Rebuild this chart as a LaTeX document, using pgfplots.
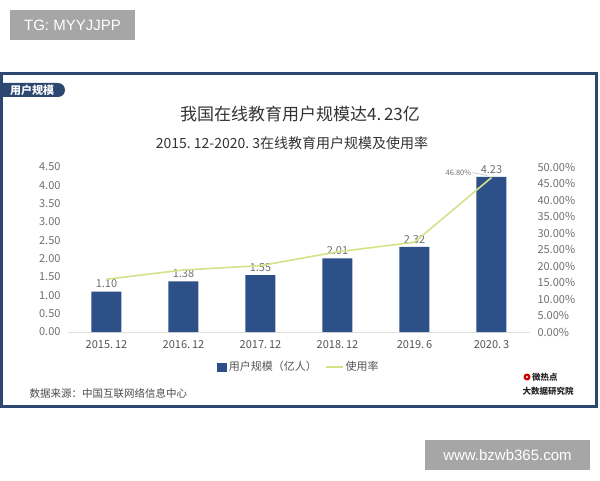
\documentclass[border=0pt]{standalone}
\usepackage{fontspec}
\setmainfont{Noto Sans CJK SC}
\newfontfamily\wm{Liberation Sans}
\usepackage{pgfplots}
\pgfplotsset{compat=1.18}
\definecolor{navy}{HTML}{2C4770}
\definecolor{barblue}{HTML}{2D5089}
\definecolor{linegreen}{HTML}{D3E38A}
\definecolor{ticktext}{HTML}{707070}
\definecolor{labtext}{HTML}{555555}
\definecolor{wmgray}{HTML}{A6A6A6}
\begin{document}
\begin{tikzpicture}[x=1pt,y=1pt]
\fill[white] (0,0) rectangle (600,480);
% watermarks
\fill[wmgray] (10,440) rectangle (135,470);
\node[text=white,font=\wm\fontsize{15}{15}\selectfont] at (72.5,455) {TG: MYYJJPP};
\fill[wmgray] (425,10) rectangle (590,40);
\node[text=white,font=\wm\fontsize{15}{15}\selectfont] at (507.5,25) {www.bzwb365.com};
% frame
\draw[navy,line width=3pt] (1.5,73.5) rectangle (596.5,406.5);
% tab
\fill[navy] (0,383) -- (58,383) arc(-90:90:7) -- (0,397) -- cycle;
\node[text=white,font=\fontsize{11}{11}\selectfont\bfseries] at (32,390) {用户规模};
% titles
\node[text=black!80,font=\fontsize{17}{17}\selectfont] at (300,366) {我国在线教育用户规模达4.\,23亿};
\node[text=black!80,font=\fontsize{14}{14}\selectfont] at (292,337) {2015.\ 12-2020.\ 3在线教育用户规模及使用率};
% source
\node[anchor=west,text=black!70,font=\fontsize{10.5}{10.5}\selectfont] at (26,87) {数据来源：中国互联网络信息中心};
% logo
\fill[red!80!black] (527,103) circle (3.5);
\fill[white] (527,103) circle (1.2);
\node[anchor=west,text=black!85,font=\fontsize{8.5}{8.5}\selectfont\bfseries,inner sep=0] at (532,103) {微热点};
\node[text=black!85,font=\fontsize{8.5}{8.5}\selectfont\bfseries,inner sep=0] at (548,89) {大数据研究院};

\begin{axis}[
  at={(68pt,148pt)}, anchor=south west,
  width=462pt, height=165pt, scale only axis,
  xmin=-0.5, xmax=5.5, ymin=0, ymax=4.5,
  xtick={0,...,5},
  xticklabels={2015.\,12,2016.\,12,2017.\,12,2018.\,12,2019.\,6,2020.\,3},
  ytick={0,0.5,1,1.5,2,2.5,3,3.5,4,4.5},
  axis x line*=bottom, axis y line*=left,
  y axis line style={draw=none},
  x axis line style={draw=black!12, line width=0.8pt, -},
  major tick length=0pt, tick style={draw=none},
  /pgf/number format/assume math mode=true,
  yticklabel style={/pgf/number format/fixed,/pgf/number format/fixed zerofill,/pgf/number format/precision=2, text=ticktext, font=\fontsize{11}{11}\selectfont, xshift=-4pt},
  xticklabel style={text=labtext, font=\fontsize{11}{11}\selectfont, yshift=-5pt},
  ybar, bar width=30pt,
  nodes near coords,
  nodes near coords style={text=ticktext, font=\fontsize{11}{11}\selectfont, /pgf/number format/fixed,/pgf/number format/fixed zerofill,/pgf/number format/precision=2},
  clip=false,
]
\addplot[fill=barblue, draw=none] coordinates {(0,1.10) (1,1.38) (2,1.55) (3,2.01) (4,2.32) (5,4.23)};
\end{axis}

\begin{axis}[
  at={(68pt,148pt)}, anchor=south west,
  width=462pt, height=165pt, scale only axis,
  xmin=-0.5, xmax=5.5, ymin=0, ymax=50,
  axis y line*=right, axis x line=none,
  y axis line style={draw=none},
  major tick length=0pt, tick style={draw=none},
  ytick={0,5,10,15,20,25,30,35,40,45,50},
  /pgf/number format/assume math mode=true,
  yticklabel={\pgfmathprintnumber[fixed,fixed zerofill,precision=2]{\tick}\%},
  yticklabel style={text=ticktext, font=\fontsize{11}{11}\selectfont, xshift=4pt},
  clip=false,
  legend style={at={(0.5,-0.212)}, anchor=center, draw=none, fill=none, legend columns=2,
    font=\fontsize{11}{11}\selectfont, text=labtext,
    /tikz/every even column/.append style={column sep=6pt}},
]
\addlegendimage{legend image code/.code={\fill[barblue] (0pt,-4pt) rectangle (9pt,4pt);}}
\addlegendentry{用户规模（亿人）}
\addplot[linegreen, line width=1.6pt, mark=none] coordinates {(0,16.0) (1,18.8) (2,20.1) (3,24.3) (4,27.2) (5,46.8)};
\addlegendentry{使用率}
\draw[black!35, line width=0.4pt] ([xshift=-19pt,yshift=5pt]axis cs:5,46.8) -- ([xshift=-4pt,yshift=2pt]axis cs:5,46.8);
\node[anchor=east, text=ticktext, font=\fontsize{7.5}{7.5}\selectfont, inner sep=1pt] at ([xshift=-19pt,yshift=5pt]axis cs:5,46.8) {46.80\%};
\end{axis}
\end{tikzpicture}
\end{document}
